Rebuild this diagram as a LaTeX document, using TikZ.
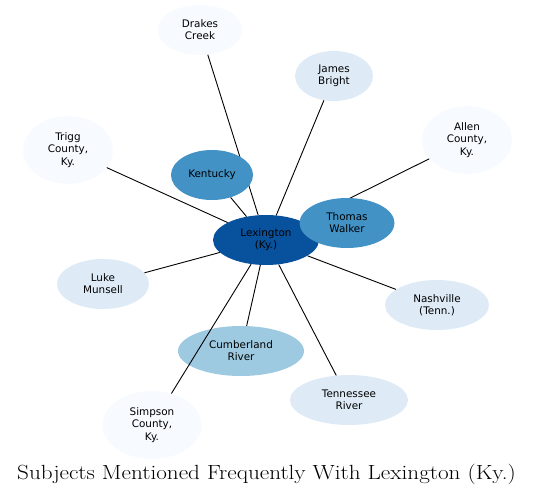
\documentclass[tikz,border=0pt]{standalone}
\usepackage{fontspec}
\usepackage{graphicx}
\usepackage{xcolor}
\usepackage{tikz}
\usetikzlibrary{shapes.geometric}
\newfontfamily\dejavu{DejaVu Sans}
\definecolor{blueA}{HTML}{08519C}
\definecolor{blueB}{HTML}{4292C6}
\definecolor{blueC}{HTML}{9ECAE1}
\definecolor{blueD}{HTML}{DEEBF7}
\definecolor{blueE}{HTML}{F7FBFF}

\begin{document}
\begin{tikzpicture}[x=1pt, y=-1pt,
        subj/.style={ellipse, inner sep=0pt, minimum height=50pt, align=center, font=\dejavu\fontsize{10.4}{12.2}\selectfont},
        link/.style={line width=0.9pt}]
        \useasboundingbox (0,0) rectangle (533,495);
        \node[subj, fill=blueA, minimum width=106pt] (lex) at (266,240) {Lexington\\(Ky.)};
        \node[subj, fill=blueE, minimum width=85pt] (drakes) at (200,30) {Drakes\\Creek};
        \node[subj, fill=blueD, minimum width=78pt] (james) at (334,76) {James\\Bright};
        \node[subj, fill=blueE, minimum width=90pt, minimum height=68pt] (allen) at (467,140) {Allen\\County,\\Ky.};
        \node[subj, fill=blueE, minimum width=90pt, minimum height=68pt] (trigg) at (68,150) {Trigg\\County,\\Ky.};
        \node[subj, fill=blueD, minimum width=92pt] (luke) at (103,284) {Luke\\Munsell};
        \node[subj, fill=blueD, minimum width=104pt] (nash) at (437,305) {Nashville\\(Tenn.)};
        \node[subj, fill=blueC, minimum width=126pt] (cumb) at (241,351) {Cumberland\\River};
        \node[subj, fill=blueD, minimum width=118pt] (tenn) at (349,400) {Tennessee\\River};
        \node[subj, fill=blueE, minimum width=99pt, minimum height=68pt] (simpson) at (152,425) {Simpson\\County,\\Ky.};
        \draw[link] (lex) -- (drakes);
        \draw[link] (lex) -- (james);
        \draw[link] (lex) -- (allen);
        \draw[link] (lex) -- (trigg);
        \draw[link] (lex) -- (luke);
        \draw[link] (lex) -- (nash);
        \draw[link] (lex) -- (cumb);
        \draw[link] (lex) -- (tenn);
        \draw[link] (lex) -- (simpson);
        \node[subj, fill=blueB, minimum width=82pt] (kentucky) at (212,175) {Kentucky};
        \draw[link] (lex) -- (kentucky);
        \draw[link] (lex) -- (347,223);
        \node[subj, fill=blueB, minimum width=95pt] (walker) at (347,223) {Thomas\\Walker};
        \node[font=\fontsize{20.5}{24}\selectfont, anchor=base] (title) at (266.5,479) {\scalebox{1.13}[1]{Subjects Mentioned Frequently With Lexington (Ky.)}};
    \end{tikzpicture}
\end{document}
